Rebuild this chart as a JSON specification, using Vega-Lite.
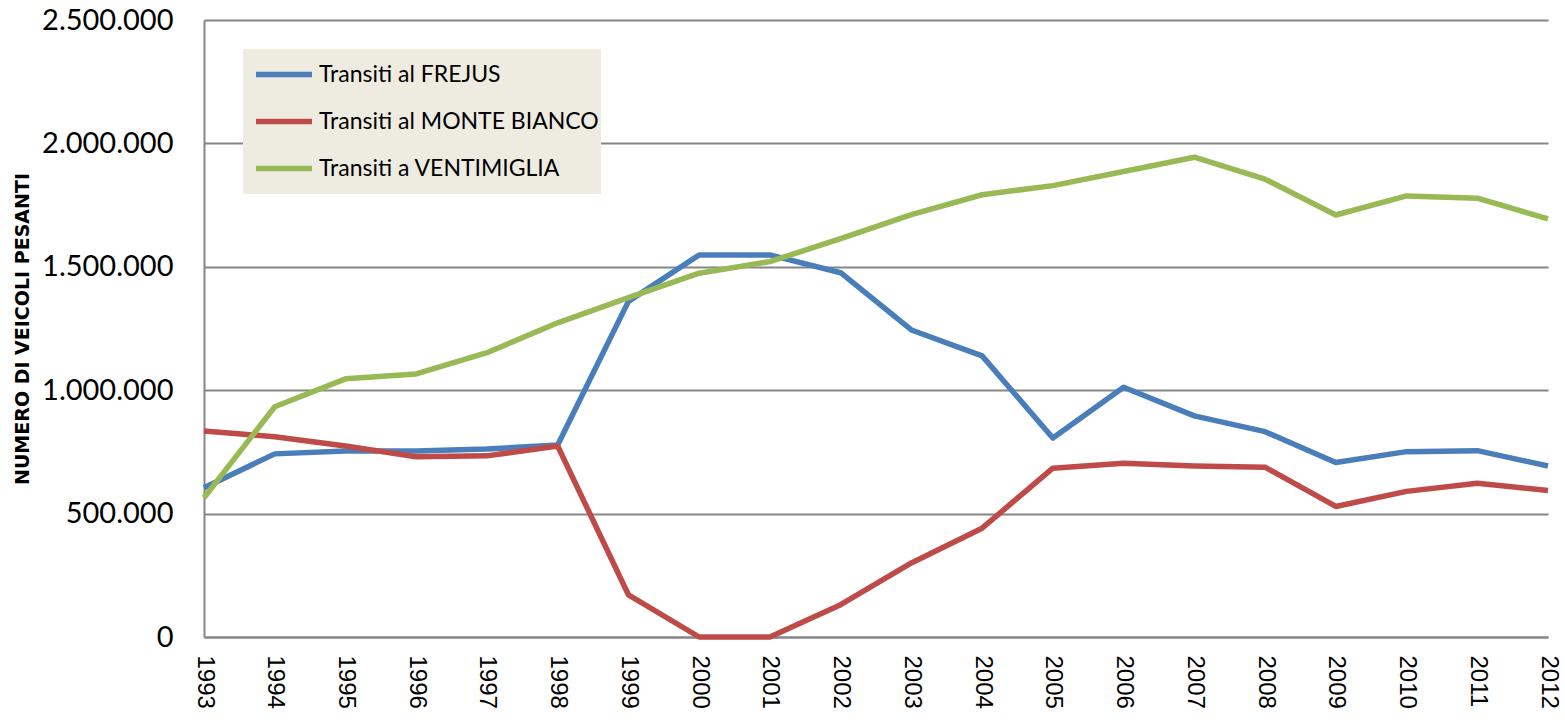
{
  "$schema": "https://vega.github.io/schema/vega-lite/v6.json",
  "autosize": {"type": "none"},
  "width": 1344,
  "height": 617,
  "padding": {"left": 204, "top": 20, "right": 17, "bottom": 88},
  "background": "white",
  "data": {"values": [
    {"year": 1993, "serie": "Transiti al FREJUS", "value": 605000},
    {"year": 1994, "serie": "Transiti al FREJUS", "value": 742000},
    {"year": 1995, "serie": "Transiti al FREJUS", "value": 754000},
    {"year": 1996, "serie": "Transiti al FREJUS", "value": 754000},
    {"year": 1997, "serie": "Transiti al FREJUS", "value": 762000},
    {"year": 1998, "serie": "Transiti al FREJUS", "value": 778000},
    {"year": 1999, "serie": "Transiti al FREJUS", "value": 1360000},
    {"year": 2000, "serie": "Transiti al FREJUS", "value": 1548000},
    {"year": 2001, "serie": "Transiti al FREJUS", "value": 1548000},
    {"year": 2002, "serie": "Transiti al FREJUS", "value": 1476000},
    {"year": 2003, "serie": "Transiti al FREJUS", "value": 1244000},
    {"year": 2004, "serie": "Transiti al FREJUS", "value": 1139000},
    {"year": 2005, "serie": "Transiti al FREJUS", "value": 806000},
    {"year": 2006, "serie": "Transiti al FREJUS", "value": 1012000},
    {"year": 2007, "serie": "Transiti al FREJUS", "value": 896000},
    {"year": 2008, "serie": "Transiti al FREJUS", "value": 832000},
    {"year": 2009, "serie": "Transiti al FREJUS", "value": 707000},
    {"year": 2010, "serie": "Transiti al FREJUS", "value": 751000},
    {"year": 2011, "serie": "Transiti al FREJUS", "value": 755000},
    {"year": 2012, "serie": "Transiti al FREJUS", "value": 693000},
    {"year": 1993, "serie": "Transiti al MONTE BIANCO", "value": 835000},
    {"year": 1994, "serie": "Transiti al MONTE BIANCO", "value": 811000},
    {"year": 1995, "serie": "Transiti al MONTE BIANCO", "value": 774000},
    {"year": 1996, "serie": "Transiti al MONTE BIANCO", "value": 730000},
    {"year": 1997, "serie": "Transiti al MONTE BIANCO", "value": 734000},
    {"year": 1998, "serie": "Transiti al MONTE BIANCO", "value": 774000},
    {"year": 1999, "serie": "Transiti al MONTE BIANCO", "value": 171000},
    {"year": 2000, "serie": "Transiti al MONTE BIANCO", "value": 0},
    {"year": 2001, "serie": "Transiti al MONTE BIANCO", "value": 0},
    {"year": 2002, "serie": "Transiti al MONTE BIANCO", "value": 131000},
    {"year": 2003, "serie": "Transiti al MONTE BIANCO", "value": 300000},
    {"year": 2004, "serie": "Transiti al MONTE BIANCO", "value": 441000},
    {"year": 2005, "serie": "Transiti al MONTE BIANCO", "value": 684000},
    {"year": 2006, "serie": "Transiti al MONTE BIANCO", "value": 704000},
    {"year": 2007, "serie": "Transiti al MONTE BIANCO", "value": 693000},
    {"year": 2008, "serie": "Transiti al MONTE BIANCO", "value": 688000},
    {"year": 2009, "serie": "Transiti al MONTE BIANCO", "value": 529000},
    {"year": 2010, "serie": "Transiti al MONTE BIANCO", "value": 590000},
    {"year": 2011, "serie": "Transiti al MONTE BIANCO", "value": 623000},
    {"year": 2012, "serie": "Transiti al MONTE BIANCO", "value": 594000},
    {"year": 1993, "serie": "Transiti a VENTIMIGLIA", "value": 564000},
    {"year": 1994, "serie": "Transiti a VENTIMIGLIA", "value": 933000},
    {"year": 1995, "serie": "Transiti a VENTIMIGLIA", "value": 1046000},
    {"year": 1996, "serie": "Transiti a VENTIMIGLIA", "value": 1066000},
    {"year": 1997, "serie": "Transiti a VENTIMIGLIA", "value": 1152000},
    {"year": 1998, "serie": "Transiti a VENTIMIGLIA", "value": 1273000},
    {"year": 1999, "serie": "Transiti a VENTIMIGLIA", "value": 1375000},
    {"year": 2000, "serie": "Transiti a VENTIMIGLIA", "value": 1474000},
    {"year": 2001, "serie": "Transiti a VENTIMIGLIA", "value": 1521000},
    {"year": 2002, "serie": "Transiti a VENTIMIGLIA", "value": 1614000},
    {"year": 2003, "serie": "Transiti a VENTIMIGLIA", "value": 1711000},
    {"year": 2004, "serie": "Transiti a VENTIMIGLIA", "value": 1792000},
    {"year": 2005, "serie": "Transiti a VENTIMIGLIA", "value": 1829000},
    {"year": 2006, "serie": "Transiti a VENTIMIGLIA", "value": 1886000},
    {"year": 2007, "serie": "Transiti a VENTIMIGLIA", "value": 1944000},
    {"year": 2008, "serie": "Transiti a VENTIMIGLIA", "value": 1855000},
    {"year": 2009, "serie": "Transiti a VENTIMIGLIA", "value": 1710000},
    {"year": 2010, "serie": "Transiti a VENTIMIGLIA", "value": 1787000},
    {"year": 2011, "serie": "Transiti a VENTIMIGLIA", "value": 1778000},
    {"year": 2012, "serie": "Transiti a VENTIMIGLIA", "value": 1694000}
  ]},
  "mark": {"type": "line", "strokeWidth": 5.5, "strokeJoin": "round", "strokeCap": "butt"},
  "encoding": {
    "x": {
      "field": "year", "type": "ordinal",
      "scale": {"type": "point", "padding": 0},
      "axis": {
        "title": null, "labelAngle": 90, "labelAlign": "left", "labelBaseline": "middle",
        "labelFont": "Liberation Sans", "labelFontSize": 24, "labelColor": "#000000",
        "labelPadding": 18, "ticks": false, "grid": false,
        "domainColor": "#868686", "domainWidth": 2
      }
    },
    "y": {
      "field": "value", "type": "quantitative",
      "scale": {"domain": [0, 2500000], "nice": false},
      "axis": {
        "title": "NUMERO DI VEICOLI PESANTI",
        "titleFont": "DejaVu Sans", "titleFontWeight": "bold", "titleFontSize": 19, "titleColor": "#000000",
        "titlePadding": 9,
        "values": [0, 500000, 1000000, 1500000, 2000000, 2500000],
        "labelExpr": "replace(replace(format(datum.value, ','), ',', '.'), ',', '.')",
        "labelFont": "Lato", "labelFontSize": 29, "labelColor": "#000000", "labelPadding": 31,
        "ticks": false, "grid": true, "gridColor": "#868686", "gridWidth": 2,
        "domainColor": "#868686", "domainWidth": 2
      }
    },
    "color": {
      "field": "serie", "type": "nominal",
      "scale": {
        "domain": ["Transiti al FREJUS", "Transiti al MONTE BIANCO", "Transiti a VENTIMIGLIA"],
        "range": ["#4A7EBB", "#BE4B48", "#98B954"]
      },
      "legend": {
        "title": null, "orient": "none", "legendX": 39, "legendY": 29,
        "fillColor": "#EEECE1", "padding": 2, "clipHeight": 47, "rowPadding": 0,
        "symbolType": "stroke", "symbolSize": 3136, "symbolStrokeWidth": 5.5, "symbolOffset": 8,
        "labelFont": "Lato", "labelFontSize": 23, "labelColor": "#000000", "labelOffset": 4,
        "labelLimit": 400
      }
    }
  },
  "config": {"view": {"stroke": null}}
}
